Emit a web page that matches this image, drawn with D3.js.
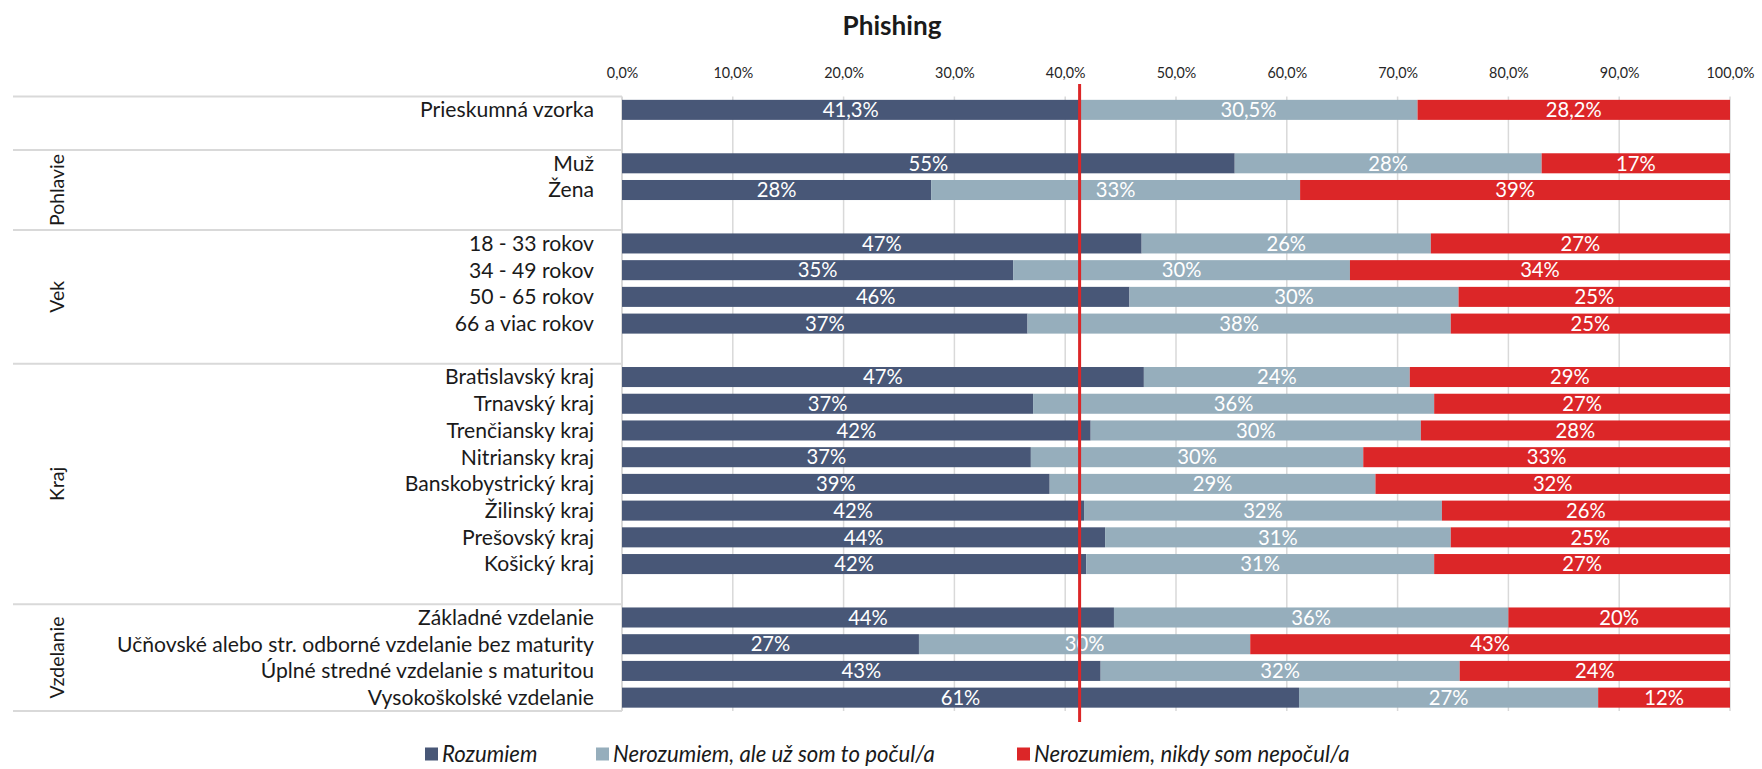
<!DOCTYPE html>
<html>
<head>
<meta charset="utf-8">
<script src="https://cdn.jsdelivr.net/npm/d3@7"></script>
<style>
  html, body { margin: 0; padding: 0; background: #ffffff; }
  svg { display: block; font-family: Lato, "Noto Sans", sans-serif; }
</style>
</head>
<body>
<svg id="chart" width="1762" height="769"></svg>
<script>
// ---------- DATA ----------
const title = "Phishing";
const groups = ["", "Pohlavie", "Vek", "Kraj", "Vzdelanie"];
const categories = [
  "Prieskumná vzorka",
  "Muž", "Žena",
  "18 - 33 rokov", "34 - 49 rokov", "50 - 65 rokov", "66 a viac rokov",
  "Bratislavský kraj", "Trnavský kraj", "Trenčiansky kraj", "Nitriansky kraj",
  "Banskobystrický kraj", "Žilinský kraj", "Prešovský kraj", "Košický kraj",
  "Základné vzdelanie", "Učňovské alebo str. odborné vzdelanie bez maturity",
  "Úplné stredné vzdelanie s maturitou", "Vysokoškolské vzdelanie"
];
const categoryGroup = [
  "",
  "Pohlavie", "Pohlavie",
  "Vek", "Vek", "Vek", "Vek",
  "Kraj", "Kraj", "Kraj", "Kraj", "Kraj", "Kraj", "Kraj", "Kraj",
  "Vzdelanie", "Vzdelanie", "Vzdelanie", "Vzdelanie"
];
const seriesNames = ["Rozumiem", "Nerozumiem, ale už som to počul/a", "Nerozumiem, nikdy som nepočul/a"];
const rozumiem = [41.3, 55.3, 27.9, 46.9, 35.3, 45.8, 36.6, 47.1, 37.1, 42.3, 36.9, 38.6, 41.7, 43.6, 41.9, 44.4, 26.8, 43.2, 61.1];
const pocul    = [30.5, 27.7, 33.3, 26.1, 30.4, 29.7, 38.2, 24.0, 36.2, 29.8, 30.0, 29.4, 32.3, 31.2, 31.4, 35.6, 29.9, 32.4, 27.0];
const nepocul  = [28.2, 17.0, 38.8, 27.0, 34.3, 24.5, 25.2, 28.9, 26.7, 27.9, 33.1, 32.0, 26.0, 25.2, 26.7, 20.0, 43.3, 24.4, 11.9];
const decimalLabelRows = ["Prieskumná vzorka"];
const tickValues = [0, 10, 20, 30, 40, 50, 60, 70, 80, 90, 100];
const colors = ["#485777", "#96aebc", "#dc2628"];

// ---------- LAYOUT ----------
const svg = d3.select("#chart");
const X0 = 622, X1 = 1730, YT = 96.5, YB = 711;
const font = 'Lato, "Noto Sans", sans-serif';

// font size that makes a sample string a given width (Calibri substitute sizing)
function fitSize(sample, target, weight, style) {
  const t = svg.append("text").attr("font-family", font).attr("font-size", 100)
    .attr("font-weight", weight || "normal").attr("font-style", style || "normal").text(sample);
  const w = t.node().getComputedTextLength();
  t.remove();
  return 100 * target / w;
}
const catSize = fitSize("Prieskumná vzorka", 174);
const groupSize = Math.min(fitSize("Pohlavie", 72), catSize * 1.12);
const valSize = fitSize("41,3%", 56);
const titleSize = fitSize("Phishing", 99, "bold");
const legendSize = fitSize("Nerozumiem, ale už som to počul/a", 322, "normal", "italic");
const tickSize = fitSize("100,0%", 48);

// Build slots: categories with a blank slot after each group (except last)
const slots = [];
const groupStart = {};
groups.forEach((g, gi) => {
  categories.forEach((c, i) => {
    if (categoryGroup[i] === g) {
      if (!(g in groupStart)) groupStart[g] = slots.length;
      slots.push({ id: "c" + i, idx: i, group: g });
    }
  });
  if (gi < groups.length - 1) slots.push({ id: "blank" + gi, idx: -1, group: g });
});

const x = d3.scaleLinear().domain([0, 100]).range([X0, X1]);
const y = d3.scaleBand().domain(slots.map(s => s.id)).range([YT, YB])
  .paddingInner(0.25).paddingOuter(0.125);
const step = y.step();
const slotTop = id => y(id) - (step - y.bandwidth()) / 2;

// Gridlines
svg.append("g").selectAll("line").data(tickValues.filter(t => t > 0)).join("line")
  .attr("x1", d => x(d)).attr("x2", d => x(d))
  .attr("y1", YT).attr("y2", YB)
  .attr("stroke", "#d9d9d9").attr("stroke-width", 1.5);

// Tick labels (top axis)
const axis = d3.axisTop(x).tickValues(tickValues)
  .tickFormat(d => d.toFixed(1).replace(".", ",") + "%").tickSize(0).tickPadding(0);
const ag = svg.append("g").attr("transform", `translate(0,${78})`).call(axis);
ag.select(".domain").remove();
ag.selectAll("text").attr("font-family", font).attr("font-size", tickSize).attr("fill", "#262626");

// Group separators and left axis line
const groupTops = groups.map(g => slotTop(slots[groupStart[g]].id));
svg.append("g").selectAll("line").data(groupTops.concat([YB])).join("line")
  .attr("x1", 13).attr("x2", X0).attr("y1", d => d).attr("y2", d => d)
  .attr("stroke", "#d9d9d9").attr("stroke-width", 2);
svg.append("line").attr("x1", X0).attr("x2", X0).attr("y1", YT).attr("y2", YB)
  .attr("stroke", "#d9d9d9").attr("stroke-width", 2);

// Group labels (rotated)
const groupExtents = groups.map((g, gi) => {
  const top = groupTops[gi];
  const bottom = gi < groups.length - 1 ? groupTops[gi + 1] : YB;
  return { g, mid: (top + bottom) / 2 };
}).filter(d => d.g !== "");
svg.append("g").selectAll("text").data(groupExtents).join("text")
  .attr("transform", d => `translate(57,${d.mid}) rotate(-90)`)
  .attr("text-anchor", "middle").attr("dy", "0.35em")
  .attr("font-family", font).attr("font-size", groupSize).attr("fill", "#1a1a1a")
  .text(d => d.g);

// Category labels
const catSlots = slots.filter(s => s.idx >= 0);
svg.append("g").selectAll("text").data(catSlots).join("text")
  .attr("x", 594).attr("y", d => y(d.id) + y.bandwidth() / 2)
  .attr("dy", "0.35em").attr("text-anchor", "end")
  .attr("font-family", font).attr("font-size", catSize).attr("fill", "#1a1a1a")
  .text(d => categories[d.idx]);

// Stacked bars
const table = categories.map((c, i) => ({ id: "c" + i, cat: c, s0: rozumiem[i], s1: pocul[i], s2: nepocul[i] }));
const stack = d3.stack().keys(["s0", "s1", "s2"]);
const stacked = stack(table);
const barG = svg.append("g");
stacked.forEach((layer, li) => {
  const g = barG.append("g");
  g.selectAll("rect").data(layer).join("rect")
    .attr("x", d => x(d[0])).attr("width", d => x(d[1]) - x(d[0]))
    .attr("y", d => y(d.data.id)).attr("height", y.bandwidth())
    .attr("fill", colors[li]);
  g.selectAll("text").data(layer).join("text")
    .attr("x", d => (x(d[0]) + x(d[1])) / 2)
    .attr("y", d => y(d.data.id) + y.bandwidth() / 2)
    .attr("dy", "0.36em").attr("text-anchor", "middle")
    .attr("font-family", font).attr("font-size", valSize).attr("fill", "#ffffff")
    .text(d => {
      const v = d[1] - d[0];
      return decimalLabelRows.includes(d.data.cat)
        ? v.toFixed(1).replace(".", ",") + "%"
        : Math.round(v) + "%";
    });
});

// Reference line at sample "Rozumiem" value
svg.append("line")
  .attr("x1", x(rozumiem[0])).attr("x2", x(rozumiem[0]))
  .attr("y1", 84).attr("y2", 722)
  .attr("stroke", "#dc2628").attr("stroke-width", 3);

// Title
svg.append("text").attr("x", 892).attr("y", 35).attr("text-anchor", "middle")
  .attr("font-family", font).attr("font-weight", "bold").attr("font-size", titleSize)
  .attr("fill", "#1a1a1a").text(title);

// Legend
const legendX = [425, 596, 1017];
const lg = svg.append("g").selectAll("g").data(seriesNames).join("g")
  .attr("transform", (d, i) => `translate(${legendX[i]},754)`);
lg.append("rect").attr("x", 0).attr("y", -6.5).attr("width", 13).attr("height", 13)
  .attr("fill", (d, i) => colors[i]);
lg.append("text").attr("x", 17).attr("y", 0).attr("dy", "0.36em")
  .attr("font-family", font).attr("font-style", "italic").attr("font-size", legendSize)
  .attr("fill", "#1a1a1a").text(d => d);
</script>
</body>
</html>
